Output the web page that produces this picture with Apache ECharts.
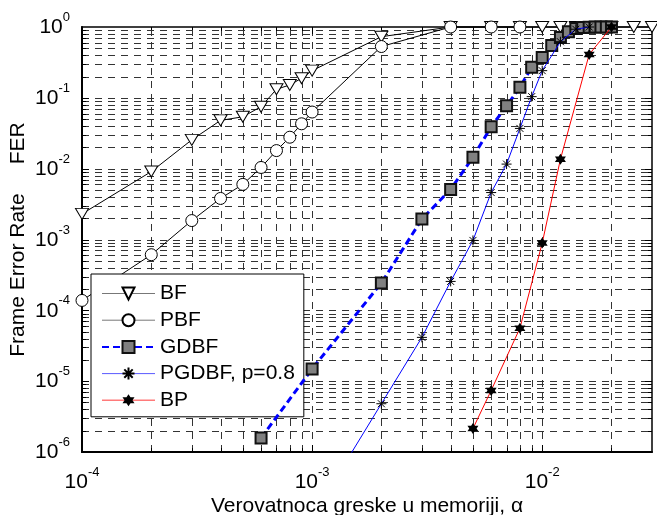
<!DOCTYPE html>
<html>
<head>
	<meta charset="UTF-8">
	<title>FER</title>
	<style>
		html, body { margin: 0; padding: 0; background: #fff; }
		#main { width: 657px; height: 515px; }
	</style>
</head>
<body>
	<div id="main"></div>
	<script src="https://cdn.jsdelivr.net/npm/echarts@6/dist/echarts.min.js"></script>
	<script>
	var FONT = '"Liberation Sans", Arial, sans-serif';

	// alpha (x) and FER (y) per decoder
	var bfAlpha = [1e-4, 2e-4, 3e-4, 4e-4, 5e-4, 6e-4, 7e-4, 8e-4, 9e-4, 1e-3, 2e-3, 4e-3, 6e-3, 8e-3, 1e-2, 1.2e-2, 1.4e-2, 1.6e-2, 1.8e-2, 2e-2, 2.5e-2, 3e-2];
	var bfFer = [2.3e-3, 9.1e-3, 2.55e-2, 4.8e-2, 5.4e-2, 7.5e-2, 0.132, 0.152, 0.189, 0.242, 0.73, 1, 1, 1, 1, 1, 1, 1, 1, 1, 1, 1];

	var pbfAlpha = [1e-4, 2e-4, 3e-4, 4e-4, 5e-4, 6e-4, 7e-4, 8e-4, 9e-4, 1e-3, 2e-3, 4e-3, 6e-3, 8e-3];
	var pbfFer = [1.38e-4, 6.1e-4, 1.85e-3, 3.8e-3, 6.0e-3, 1.04e-2, 1.8e-2, 2.78e-2, 4.3e-2, 6.3e-2, 0.53, 1, 1, 1];

	var gdbfAlpha = [6e-4, 1e-3, 2e-3, 3e-3, 4e-3, 5e-3, 6e-3, 7e-3, 8e-3, 9e-3, 1e-2, 1.1e-2, 1.2e-2, 1.3e-2, 1.4e-2, 1.5e-2, 1.6e-2, 1.7e-2, 1.8e-2, 1.9e-2, 2e-2];
	var gdbfFer = [1.58e-6, 1.49e-5, 2.43e-4, 1.94e-3, 5.1e-3, 1.45e-2, 3.9e-2, 7.7e-2, 0.141, 0.27, 0.37, 0.55, 0.71, 0.86, 0.95, 0.98, 0.99, 1, 1, 1, 1];

	var pgdbfAlpha = [1e-3, 2e-3, 3e-3, 4e-3, 5e-3, 6e-3, 7e-3, 8e-3, 9e-3, 1e-2, 1.2e-2, 1.4e-2, 1.6e-2];
	var pgdbfFer = [1.2e-7, 4.8e-6, 4.15e-5, 2.56e-4, 9.7e-4, 4.6e-3, 1.16e-2, 3.7e-2, 0.104, 0.242, 0.62, 0.93, 1.0];

	var bpAlpha = [5e-3, 6e-3, 8e-3, 1e-2, 1.2e-2, 1.6e-2, 2e-2];
	var bpFer = [2.14e-6, 7.4e-6, 5.6e-5, 8.9e-4, 1.36e-2, 0.41, 1.0];

	// axis range and grid lines (1..9 per decade)
	var xMin = 1e-4, xMax = 3e-2;
	var yMin = 1e-6, yMax = 1;
	var xGridVals = [2e-4, 3e-4, 4e-4, 5e-4, 6e-4, 7e-4, 8e-4, 9e-4, 1e-3,
		2e-3, 3e-3, 4e-3, 5e-3, 6e-3, 7e-3, 8e-3, 9e-3, 1e-2, 2e-2];
	var yGridVals = [];
	for (var d = -6; d < 0; d++) {
		for (var m = 1; m <= 9; m++) {
			if (d == -6 && m == 1) continue;
			yGridVals.push(+(m * Math.pow(10, d)).toPrecision(3));
		}
	}

	function zip(a, b) {
		var out = [];
		for (var i = 0; i < a.length; i++) out.push([a[i], b[i]]);
		return out;
	}

	function isPow10(v) {
		var l = Math.log10(v);
		return Math.abs(l - Math.round(l)) < 1e-6;
	}

	function tickLabel(v) {
		if (!isPow10(v)) return '';
		return '{b|10}{s|' + Math.round(Math.log10(v)) + '}';
	}

	// "10" with a raised exponent (padding on the exponent lifts it)
	var labelRich = {
		b: { fontSize: 21, fontFamily: FONT, color: '#000', verticalAlign: 'bottom', lineHeight: 22 },
		s: { fontSize: 13, fontFamily: FONT, color: '#000', verticalAlign: 'bottom', lineHeight: 14, padding: [0, 0, 14, 0] }
	};

	var GRID_COLOR = '#333';

	function gridLines(vals, dir) {
		return {
			type: 'custom',
			silent: true,
			z: 1,
			clip: false,
			data: vals.map(function (v) { return dir == 'x' ? [v, yMax] : [xMin, v]; }),
			renderItem: function (params, api) {
				var cs = params.coordSys;
				var v = api.value(dir == 'x' ? 0 : 1);
				var p = api.coord([api.value(0), api.value(1)]);
				var len = isPow10(v) ? 7 : 4;
				var st = { stroke: GRID_COLOR, lineWidth: 1, lineDash: [7, 6] };
				var tk = { stroke: '#000', lineWidth: 1 };
				var kids = [];
				if (dir == 'x') {
					var x = Math.round(p[0]) + 0.5;
					var t = cs.y, b = cs.y + cs.height;
					kids.push({ type: 'line', shape: { x1: x, y1: b, x2: x, y2: t }, style: st });
					kids.push({ type: 'line', shape: { x1: x, y1: b, x2: x, y2: b - len }, style: tk });
					kids.push({ type: 'line', shape: { x1: x, y1: t, x2: x, y2: t + len }, style: tk });
				} else {
					var y = Math.round(p[1]) + 0.5;
					var l = cs.x, r = cs.x + cs.width;
					kids.push({ type: 'line', shape: { x1: l, y1: y, x2: r, y2: y }, style: st });
					kids.push({ type: 'line', shape: { x1: l, y1: y, x2: l + len, y2: y }, style: tk });
					kids.push({ type: 'line', shape: { x1: r, y1: y, x2: r - len, y2: y }, style: tk });
				}
				return { type: 'group', children: kids };
			}
		};
	}

	var asterisk = 'path://M5,0L5,10M0,5L10,5M1.5,1.5L8.5,8.5M1.5,8.5L8.5,1.5';
	var hexagram = 'path://M0,-10L2.887,-5L8.66,-5L5.774,0L8.66,5L2.887,5L0,10L-2.887,5L-8.66,5L-5.774,0L-8.66,-5L-2.887,-5Z';

	var option = {
		animation: false,
		backgroundColor: '#fff',
		grid: {
			left: 82, right: 5, top: 27, bottom: 63,
			containLabel: false, outerBoundsMode: 'none',
			show: true, borderColor: '#000', borderWidth: 1.5, backgroundColor: 'transparent'
		},
		legend: {
			orient: 'vertical',
			left: 91, top: 274,
			padding: [9, 9, 6, 10],
			itemWidth: 53, itemHeight: 15, itemGap: 5.7,
			backgroundColor: '#fff',
			borderColor: '#000', borderWidth: 1,
			selectedMode: false,
			textStyle: { fontSize: 21, fontFamily: FONT, color: '#000', lineHeight: 20 },
			data: [
				{ name: 'BF', lineStyle: { color: '#777', width: 1 } },
				{ name: 'PBF', lineStyle: { color: '#777', width: 1 } },
				{ name: 'GDBF' },
				{ name: 'PGDBF, p=0.8', lineStyle: { color: '#5a5aff', width: 1 } },
				{ name: 'BP', lineStyle: { color: '#ff7a7a', width: 1.5 } }
			]
		},
		xAxis: {
			type: 'log', logBase: 10, min: xMin, max: xMax,
			name: 'Verovatnoca greske u memoriji, α',
			nameLocation: 'middle', nameGap: 44, nameMoveOverlap: false,
			nameTextStyle: { fontSize: 21, fontFamily: FONT, color: '#000' },
			axisLine: { lineStyle: { color: '#000', width: 2 } },
			axisTick: { show: false },
			splitLine: { show: false },
			axisLabel: { formatter: tickLabel, rich: labelRich, margin: 19, showMinLabel: true, showMaxLabel: false }
		},
		yAxis: {
			type: 'log', logBase: 10, min: yMin, max: yMax,
			name: 'Frame Error Rate     FER',
			nameLocation: 'middle', nameGap: 53, nameRotate: 90, nameMoveOverlap: false,
			nameTextStyle: { fontSize: 21, fontFamily: FONT, color: '#000' },
			axisLine: { lineStyle: { color: '#000', width: 2 } },
			axisTick: { show: false },
			splitLine: { show: false },
			axisLabel: { formatter: tickLabel, rich: labelRich, margin: 12, showMinLabel: true, showMaxLabel: true }
		},
		series: [
			gridLines(xGridVals, 'x'),
			gridLines(yGridVals, 'y'),
			{
				name: 'BF', type: 'line', clip: false, z: 3,
				data: zip(bfAlpha, bfFer),
				symbol: 'triangle', symbolRotate: 180, symbolSize: [13, 11],
				lineStyle: { color: '#000', width: 1 },
				itemStyle: { color: '#fff', borderColor: '#000', borderWidth: 1 }
			},
			{
				name: 'PBF', type: 'line', clip: false, z: 3,
				data: zip(pbfAlpha, pbfFer),
				symbol: 'circle', symbolSize: 12,
				lineStyle: { color: '#000', width: 1 },
				itemStyle: { color: '#fff', borderColor: '#000', borderWidth: 1 }
			},
			{
				name: 'GDBF', type: 'line', clip: false, z: 4,
				data: zip(gdbfAlpha, gdbfFer),
				symbol: 'rect', symbolSize: 11,
				lineStyle: { color: '#0000ff', width: 3, type: [7, 4] },
				itemStyle: { color: '#808080', borderColor: '#111', borderWidth: 2 }
			},
			{
				name: 'PGDBF, p=0.8', type: 'line', clip: true, z: 5,
				data: zip(pgdbfAlpha, pgdbfFer),
				symbol: asterisk, symbolSize: 10,
				lineStyle: { color: '#0000ff', width: 1 },
				itemStyle: { color: 'none', borderColor: '#000', borderWidth: 1 }
			},
			{
				name: 'BP', type: 'line', clip: false, z: 5,
				data: zip(bpAlpha, bpFer),
				symbol: hexagram, symbolSize: 11,
				lineStyle: { color: '#ff0000', width: 1 },
				itemStyle: { color: '#000', borderColor: '#000', borderWidth: 0 }
			}
		]
	};

	var myChart = echarts.init(document.getElementById('main'));
	myChart.setOption(option);
	</script>
</body>
</html>
